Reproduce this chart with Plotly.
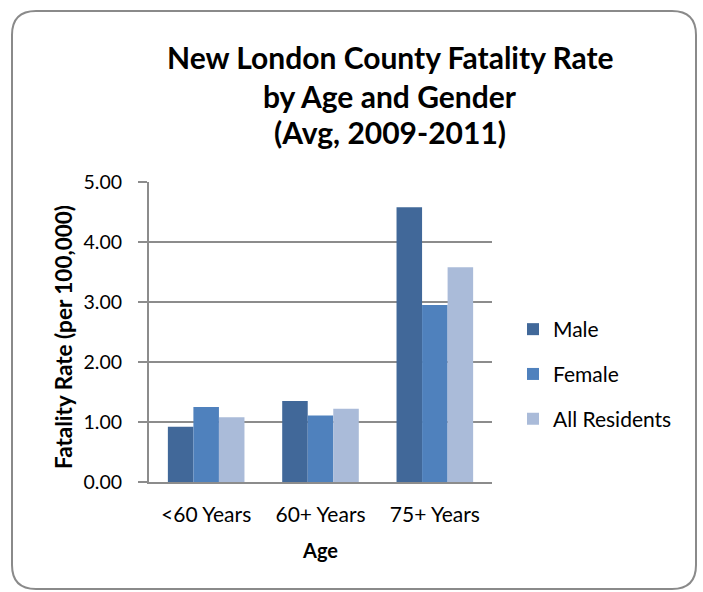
import plotly.graph_objects as go

categories = ["<60 Years", "60+ Years", "75+ Years"]
male = [0.92, 1.35, 4.58]
female = [1.25, 1.11, 2.95]
all_res = [1.08, 1.22, 3.58]
series_names = ["Male", "Female", "All Residents"]
colors = ["#416899", "#4F81BD", "#AABBD9"]
y_ticks = [0, 1, 2, 3, 4, 5]

W, H = 703, 592
PL, PR, PT, PB = 149, 492, 182, 482

def px(x):
    return (x - PL) / (PR - PL)

def py(y):
    return (PB - y) / (PB - PT)

FONT = "Lato, Calibri, sans-serif"

fig = go.Figure()
for i, (name, vals) in enumerate(zip(series_names, [male, female, all_res])):
    fig.add_trace(go.Bar(
        x=categories, y=vals, name=name, legendgroup=name,
        marker=dict(color=colors[i], line=dict(width=0)),
    ))

# rounded border
x0, x1, y0, y1, r = 12, 696, 11, 589, 24
path = (
    f"M {px(x0+r)},{py(y0)} L {px(x1-r)},{py(y0)} "
    f"Q {px(x1)},{py(y0)} {px(x1)},{py(y0+r)} "
    f"L {px(x1)},{py(y1-r)} Q {px(x1)},{py(y1)} {px(x1-r)},{py(y1)} "
    f"L {px(x0+r)},{py(y1)} Q {px(x0)},{py(y1)} {px(x0)},{py(y1-r)} "
    f"L {px(x0)},{py(y0+r)} Q {px(x0)},{py(y0)} {px(x0+r)},{py(y0)} Z"
)
shapes = [dict(type="path", path=path, xref="paper", yref="paper",
               line=dict(color="#8a8a8a", width=2), layer="below")]

title_lines = ["New London County Fatality Rate", "by Age and Gender", "(Avg, 2009-2011)"]
title_y = [57, 96, 132]
annotations = []
for t, yy in zip(title_lines, title_y):
    annotations.append(dict(text=f"<b>{t}</b>", x=px(390), y=py(yy), xref="paper", yref="paper",
                            showarrow=False, xanchor="center", yanchor="middle",
                            font=dict(family=FONT, size=30, color="#000")))
annotations.append(dict(text="<b>Fatality Rate (per 100,000)</b>", x=px(63), y=py(337),
                        xref="paper", yref="paper", showarrow=False, textangle=-90,
                        xanchor="center", yanchor="middle",
                        font=dict(family=FONT, size=22.5, color="#000")))
annotations.append(dict(text="<b>Age</b>", x=px(320), y=py(550), xref="paper", yref="paper",
                        showarrow=False, xanchor="center", yanchor="middle",
                        font=dict(family=FONT, size=20, color="#000")))

fig.update_layout(
    width=W, height=H,
    margin=dict(l=PL, r=W - PR, t=PT, b=H - PB, autoexpand=False),
    paper_bgcolor="white", plot_bgcolor="white",
    barmode="group", bargap=0.33, bargroupgap=0,
    shapes=shapes, annotations=annotations,
    showlegend=True,
    legend=dict(x=px(513), y=py(309), xanchor="left", yanchor="top",
                font=dict(family=FONT, size=21, color="#000"),
                tracegroupgap=14.5, bgcolor="rgba(0,0,0,0)"),
    font=dict(family=FONT, color="#000"),
)
fig.update_yaxes(range=[0, 5], tickvals=y_ticks, tickformat=".2f",
                 showgrid=True, gridcolor="#8c8c8c", gridwidth=1.5,
                 showline=True, linecolor="#8c8c8c", linewidth=2,
                 ticks="outside", ticklen=9, tickcolor="#8c8c8c", tickwidth=1.5,
                 ticklabelstandoff=12, zeroline=False,
                 tickfont=dict(family=FONT, size=19.5, color="#000"))
fig.update_xaxes(showline=True, linecolor="#8c8c8c", linewidth=2, ticks="",
                 ticklabelstandoff=13,
                 tickfont=dict(family=FONT, size=21, color="#000"))

fig.write_html("out.html", config={"displayModeBar": False},
               post_script="document.body.style.margin='0px';document.body.style.overflow='hidden';")
